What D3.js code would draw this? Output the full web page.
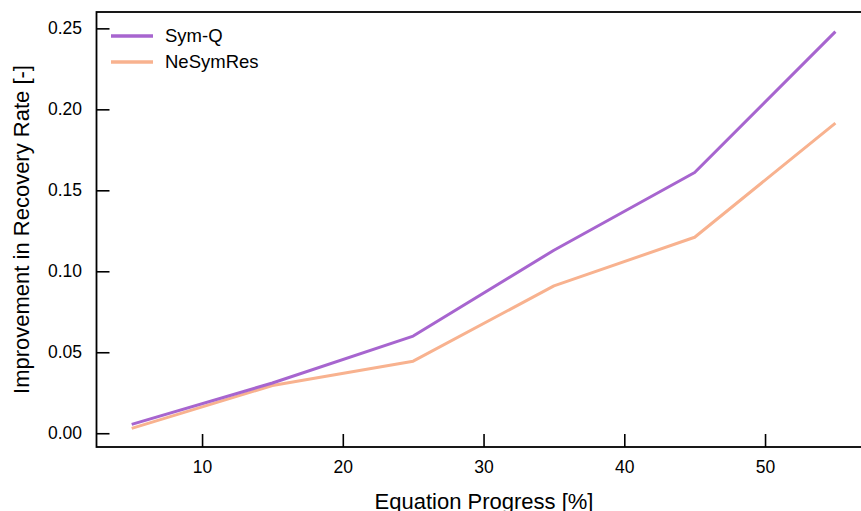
<!DOCTYPE html>
<html>
<head>
<meta charset="utf-8">
<script src="https://cdn.jsdelivr.net/npm/d3@7"></script>
<style>
  body { margin: 0; background: #fff; }
  svg { display: block; font-family: "Liberation Sans", Arial, sans-serif; }
</style>
</head>
<body>
<div id="chart"></div>
<script>
// Data
var progress = [5, 15, 25, 35, 45, 55];
var symQ = [0.0055, 0.031, 0.060, 0.113, 0.161, 0.248];
var neSymRes = [0.003, 0.0295, 0.0445, 0.091, 0.121, 0.1915];
var xTicks = [10, 20, 30, 40, 50];
var yTicks = [0.00, 0.05, 0.10, 0.15, 0.20, 0.25];
var seriesNames = ["Sym-Q", "NeSymRes"];
var seriesColors = ["#a765cf", "#f8b28f"];

var width = 861;
var height = 511;
// plot box (window.top is reserved, so use other names)
var plotLeft = 96.5, plotRight = 870.6, plotTop = 12, plotBottom = 447;

var svg = d3.select('#chart')
    .append('svg')
    .attr('width', width)
    .attr('height', height);

var xScale = d3.scaleLinear()
    .domain([2.5, 57.5])
    .range([plotLeft, plotRight]);

var yScale = d3.scaleLinear()
    .domain([-0.0085, 0.2601])
    .range([plotBottom, plotTop]);

// lines first, axes drawn over them
var line = d3.line()
    .x(function (d) { return xScale(d[0]); })
    .y(function (d) { return yScale(d[1]); });

[neSymRes, symQ].forEach(function (vals, k) {
    var idx = k == 0 ? 1 : 0;
    svg.append('path')
        .datum(progress.map(function (p, i) { return [p, vals[i]]; }))
        .attr('fill', 'none')
        .attr('stroke', seriesColors[idx])
        .attr('stroke-width', 3)
        .attr('stroke-linejoin', 'round')
        .attr('d', line);
});

// inward ticks like matplotlib
var xAxis = d3.axisBottom(xScale)
    .tickValues(xTicks)
    .tickFormat(d3.format('d'))
    .tickSizeInner(-13)
    .tickSizeOuter(0)
    .tickPadding(14);

var yAxis = d3.axisLeft(yScale)
    .tickValues(yTicks)
    .tickFormat(d3.format('.2f'))
    .tickSizeInner(-13)
    .tickSizeOuter(0)
    .tickPadding(14.5);

var gx = svg.append('g')
    .attr('transform', 'translate(0,' + plotBottom + ')')
    .call(xAxis);

var gy = svg.append('g')
    .attr('transform', 'translate(' + plotLeft + ',0)')
    .call(yAxis);

[gx, gy].forEach(function (g) {
    g.select('.domain').remove();
    g.selectAll('.tick line').attr('stroke', '#000').attr('stroke-width', 1.6);
    g.selectAll('.tick text')
        .attr('fill', '#000')
        .style('font-size', '17.5px')
        .style('font-family', '"Liberation Sans", Arial, sans-serif');
});

// spines (right one sits just outside the picture)
svg.append('rect')
    .attr('x', plotLeft)
    .attr('y', plotTop)
    .attr('width', plotRight - plotLeft)
    .attr('height', plotBottom - plotTop)
    .attr('fill', 'none')
    .attr('stroke', '#000')
    .attr('stroke-width', 1.8);

// axis labels (x label is cut by the bottom edge, as in the original)
svg.append('text')
    .attr('x', 484)
    .attr('y', 509)
    .attr('text-anchor', 'middle')
    .style('font-size', '22px')
    .text('Equation Progress [%]');

svg.append('text')
    .attr('transform', 'translate(28.5,229.5) rotate(-90)')
    .attr('text-anchor', 'middle')
    .style('font-size', '22px')
    .text('Improvement in Recovery Rate [-]');

// legend
var legend = svg.append('g');
seriesNames.forEach(function (name, i) {
    var y = 36 + i * 26;
    legend.append('line')
        .attr('x1', 111).attr('x2', 153)
        .attr('y1', y).attr('y2', y)
        .attr('stroke', seriesColors[i])
        .attr('stroke-width', 3.5);
    legend.append('text')
        .attr('x', 165)
        .attr('y', y)
        .attr('dy', '0.35em')
        .style('font-size', '18.5px')
        .text(name);
});
</script>
</body>
</html>
